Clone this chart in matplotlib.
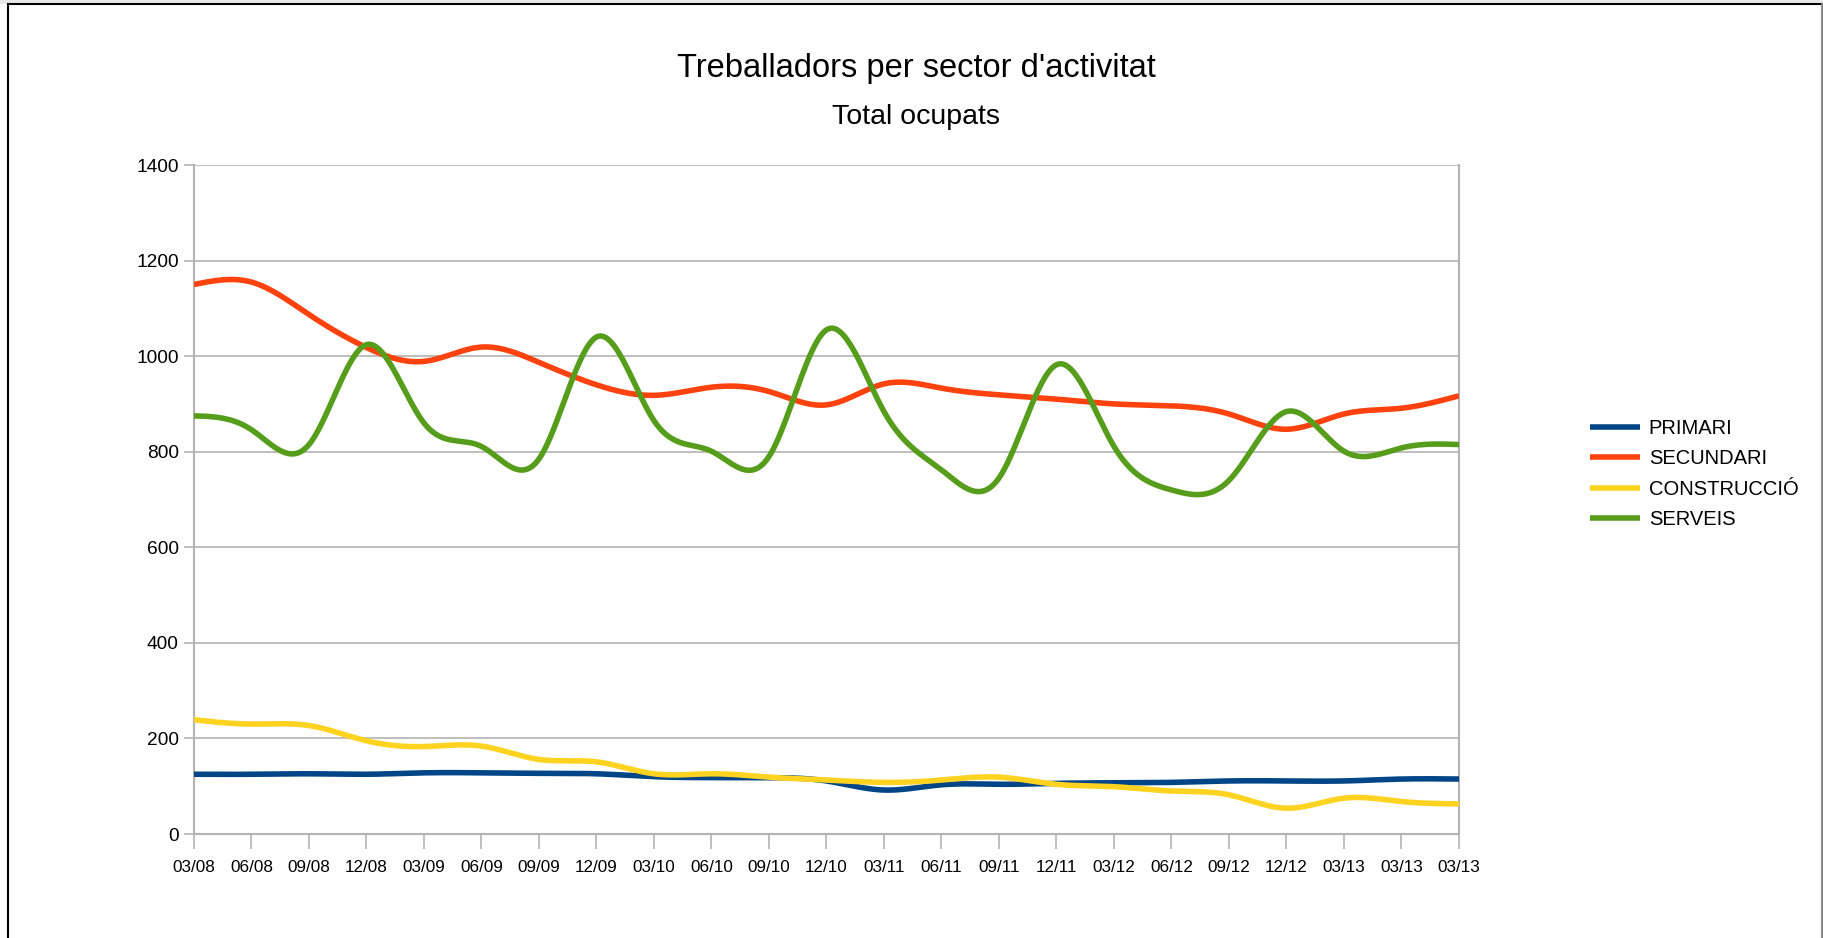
import numpy as np
import matplotlib
matplotlib.use("Agg")
import matplotlib.pyplot as plt
from matplotlib.lines import Line2D
from matplotlib.patches import Rectangle

plt.rcParams['font.family'] = ['Liberation Sans', 'DejaVu Sans']

labels = ['03/08', '06/08', '09/08', '12/08', '03/09', '06/09', '09/09', '12/09',
          '03/10', '06/10', '09/10', '12/10', '03/11', '06/11', '09/11', '12/11',
          '03/12', '06/12', '09/12', '12/12', '03/13', '03/13', '03/13']

primari = [125, 125, 126, 125, 128, 128, 127, 126, 120, 118, 118, 111, 92, 103,
           104, 106, 107, 108, 111, 111, 111, 115, 115]
secundari = [1150, 1155, 1087, 1018, 989, 1019, 987, 940, 918, 935, 926, 898,
             942, 933, 919, 910, 900, 896, 879, 847, 879, 891, 917]
construccio = [239, 230, 227, 195, 183, 184, 156, 151, 126, 126, 119, 113, 108,
               113, 119, 104, 99, 90, 82, 54, 75, 68, 63]
serveis = [875, 846, 815, 1024, 860, 811, 785, 1040, 865, 801, 790, 1055, 884,
           762, 745, 982, 811, 720, 740, 884, 801, 808, 815]

series = [('PRIMARI', primari, '#004586'),
          ('SECUNDARI', secundari, '#ff420e'),
          ('CONSTRUCCIÓ', construccio, '#ffd320'),
          ('SERVEIS', serveis, '#579d1c')]


def natural_spline(x, y, xs):
    x = np.asarray(x, float)
    y = np.asarray(y, float)
    n = len(x)
    h = np.diff(x)
    A = np.zeros((n, n))
    b = np.zeros(n)
    A[0, 0] = 1
    A[-1, -1] = 1
    for i in range(1, n - 1):
        A[i, i - 1] = h[i - 1]
        A[i, i] = 2 * (h[i - 1] + h[i])
        A[i, i + 1] = h[i]
        b[i] = 6 * ((y[i + 1] - y[i]) / h[i] - (y[i] - y[i - 1]) / h[i - 1])
    M = np.linalg.solve(A, b)
    idx = np.clip(np.searchsorted(x, xs) - 1, 0, n - 2)
    x0 = x[idx]
    x1 = x[idx + 1]
    hh = x1 - x0
    t0 = x1 - xs
    t1 = xs - x0
    return (M[idx] * t0 ** 3 / (6 * hh) + M[idx + 1] * t1 ** 3 / (6 * hh)
            + (y[idx] / hh - M[idx] * hh / 6) * t0
            + (y[idx + 1] / hh - M[idx + 1] * hh / 6) * t1)


fig = plt.figure(figsize=(18.24, 9.38), dpi=100)
ax = fig.add_axes([194 / 1824, 1 - 834 / 938, (1459 - 194) / 1824, (834 - 165) / 938])

xpos = np.arange(len(labels))
xs = np.linspace(0, len(labels) - 1, 1200)
for name, vals, col in series:
    ax.plot(xs, natural_spline(xpos, vals, xs), color=col, lw=4.0,
            label=name, solid_capstyle='butt', zorder=3)

ax.set_xlim(0, len(labels) - 1)
ax.set_ylim(0, 1400)
ax.set_yticks(np.arange(0, 1401, 200))
ax.set_xticks(xpos)
ax.set_xticklabels(labels, fontsize=12.3)
ax.tick_params(axis='y', labelsize=13.8, length=7, color='#b3b3b3', width=1.2, pad=4)
ax.tick_params(axis='x', length=11, color='#b3b3b3', width=1.2, pad=8)
ax.grid(axis='y', color='#b3b3b3', lw=1.2, zorder=0)
for s in ax.spines.values():
    s.set_color('#b3b3b3')
    s.set_linewidth(1.5)
ax.spines['top'].set_visible(False)

fig.text(916 / 1824, 1 - 68 / 938, "Treballadors per sector d'activitat",
         ha='center', va='center', fontsize=23.5)
fig.text(916 / 1824, 1 - 117 / 938, "Total ocupats",
         ha='center', va='center', fontsize=20.5)

handles, lbls = ax.get_legend_handles_labels()
fig.legend(handles, lbls, loc='center left', bbox_to_anchor=(1590 / 1824, 1 - 474 / 938),
           frameon=False, fontsize=14.5, handlelength=2.5, handletextpad=0.42,
           labelspacing=0.57, borderpad=0, borderaxespad=0)

# page frame
fig.add_artist(Rectangle((0, 1 - 4 / 938), 1, 4 / 938, transform=fig.transFigure,
                         facecolor='#e8e8e8', edgecolor='none'))
fig.add_artist(Line2D([8 / 1824, 8 / 1824], [0, 1 - 4 / 938], transform=fig.transFigure,
                      color='black', lw=1.5))
fig.add_artist(Line2D([8 / 1824, 1], [1 - 4 / 938, 1 - 4 / 938], transform=fig.transFigure,
                      color='black', lw=1.5))
fig.add_artist(Line2D([1822 / 1824, 1822 / 1824], [0, 1 - 4 / 938], transform=fig.transFigure,
                      color='#808080', lw=2))

fig.savefig('out.png', dpi=100)
